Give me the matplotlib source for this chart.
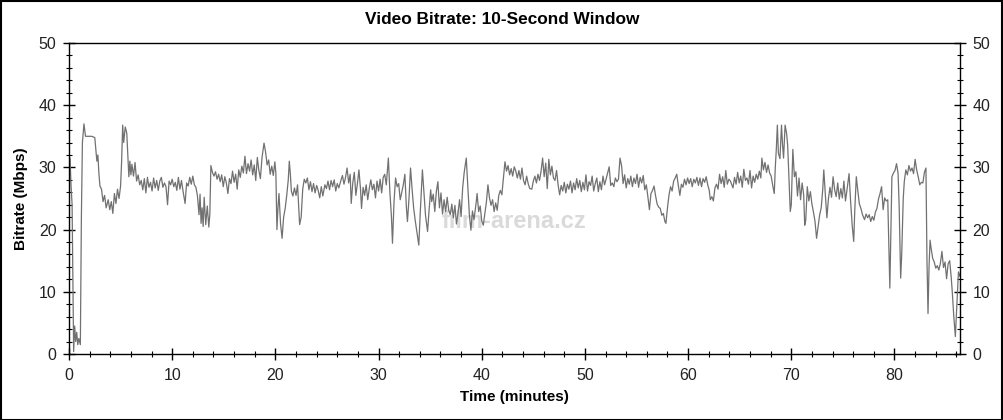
import matplotlib
matplotlib.use("Agg")
import matplotlib.pyplot as plt
from matplotlib.ticker import MultipleLocator
from matplotlib.patches import Rectangle

plt.rcParams['font.family'] = ['Liberation Sans', 'DejaVu Sans']

title = "Video Bitrate: 10-Second Window"
xlabel = "Time (minutes)"
ylabel = "Bitrate (Mbps)"
watermark = "film-arena.cz"

time_min = [
    0.0, 0.1, 0.2, 0.3, 0.4, 0.45, 0.55, 0.65, 0.75, 0.85, 0.95, 1.1, 1.2, 1.3, 1.45, 1.6, 1.8, 2.0, 2.2, 2.5,
    2.7, 2.8, 2.9, 3.0, 3.15, 3.3, 3.45, 3.6, 3.8, 3.95, 4.1, 4.25, 4.4, 4.55, 4.7, 4.85, 5.0, 5.1, 5.2, 5.3,
    5.45, 5.6, 5.7, 5.8, 5.9, 6.0,
    6.1, 6.25, 6.4, 6.55, 6.7, 6.85, 7.0, 7.15, 7.3, 7.45, 7.6, 7.75, 7.9, 8.05, 8.2, 8.35, 8.5, 8.65, 8.8, 8.95,
    9.1, 9.25, 9.4, 9.55, 9.7, 9.85, 10.0, 10.15, 10.3, 10.45, 10.6, 10.75, 10.9, 11.05, 11.25, 11.4, 11.55, 11.7,
    11.85, 12.0, 12.15, 12.3, 12.45, 12.6, 12.7, 12.8, 12.9, 13.0, 13.1,
    13.25, 13.4, 13.55, 13.65, 13.75, 13.9, 14.05, 14.2, 14.35, 14.5, 14.65, 14.8, 14.95, 15.1, 15.25, 15.4, 15.55,
    15.7, 15.85, 16.0, 16.15, 16.3, 16.45, 16.6, 16.75, 16.9, 17.05, 17.2, 17.35, 17.5, 17.65, 17.8, 17.95, 18.1,
    18.25, 18.4, 18.55, 18.7, 18.9, 19.05, 19.2, 19.35, 19.5, 19.65, 19.8, 19.95, 20.05, 20.15, 20.25, 20.35, 20.5,
    20.65, 20.8, 20.95, 21.1, 21.25, 21.35, 21.45, 21.55, 21.7, 21.85, 22.0, 22.15, 22.25, 22.35, 22.5, 22.65, 22.8,
    22.95, 23.1, 23.25, 23.4, 23.55, 23.7, 23.85, 24.0, 24.15, 24.3, 24.45, 24.6, 24.8, 24.95, 25.1, 25.25, 25.4,
    25.55, 25.7, 25.85, 26.0, 26.15,
    26.35, 26.5, 26.65, 26.8, 26.95, 27.1, 27.25, 27.35, 27.5, 27.65, 27.8, 27.95, 28.1, 28.25, 28.35, 28.5, 28.65,
    28.8, 28.95, 29.1, 29.25, 29.4, 29.55, 29.7, 29.85, 30.0, 30.15, 30.3, 30.45, 30.6, 30.75, 30.95, 31.1, 31.25,
    31.35, 31.5, 31.65, 31.8, 31.95, 32.1, 32.25, 32.4, 32.55, 32.7, 32.8, 32.95, 33.1, 33.25, 33.4, 33.55, 33.75,
    33.9, 34.05, 34.25, 34.4, 34.55, 34.75, 34.9, 35.05, 35.15, 35.3, 35.45, 35.6, 35.75, 35.9, 36.05, 36.2, 36.35,
    36.5, 36.65, 36.8, 36.95, 37.1, 37.25, 37.4, 37.55, 37.7, 37.85, 38.0, 38.15, 38.3, 38.5, 38.65, 38.8, 38.95,
    39.1, 39.25,
    39.45, 39.55, 39.7, 39.85, 40.0, 40.15, 40.3, 40.45, 40.6, 40.75, 40.9, 41.05, 41.2, 41.35, 41.5, 41.65, 41.8,
    41.95, 42.1, 42.25, 42.4, 42.55, 42.7, 42.85, 43.0, 43.15, 43.3, 43.45, 43.6, 43.75, 43.9, 44.05, 44.2, 44.35,
    44.5, 44.65, 44.85, 45.0, 45.15, 45.3, 45.45, 45.6, 45.75, 45.9, 46.05, 46.2, 46.35, 46.5, 46.65, 46.8, 46.95,
    47.1, 47.25, 47.4, 47.55, 47.7, 47.85, 48.0, 48.15, 48.3, 48.45, 48.6, 48.75, 48.9, 49.05, 49.2, 49.35, 49.5,
    49.65, 49.8, 49.95, 50.1, 50.25, 50.4, 50.55, 50.7, 50.85, 51.0, 51.15, 51.3, 51.45, 51.6, 51.75, 51.9, 52.05,
    52.35, 52.5, 52.65, 52.8, 52.95, 53.1, 53.25, 53.4, 53.55, 53.7, 53.85, 54.0, 54.15, 54.3, 54.45, 54.6, 54.75,
    54.9, 55.05, 55.2, 55.35, 55.5, 55.65, 55.8, 55.95, 56.1, 56.25, 56.4, 56.55, 56.7, 56.85, 57.0, 57.15, 57.3,
    57.45, 57.6, 57.75, 57.85, 58.0, 58.15, 58.3, 58.45, 58.6, 58.75, 58.9, 59.05, 59.2, 59.35, 59.5, 59.65, 59.8,
    59.95, 60.1, 60.25, 60.4, 60.55, 60.7, 60.85, 61.0, 61.15, 61.3, 61.45, 61.6, 61.75, 61.9, 62.05, 62.15, 62.3,
    62.45, 62.6, 62.75, 62.9, 63.05, 63.2, 63.35, 63.5, 63.65, 63.8, 63.95, 64.1,
    64.35, 64.5, 64.65, 64.8, 64.95, 65.1, 65.25, 65.4, 65.55, 65.7, 65.85, 66.0, 66.15, 66.3, 66.45, 66.6, 66.75,
    66.9, 67.05, 67.15, 67.3, 67.45, 67.6, 67.75, 67.9, 68.05, 68.2, 68.35, 68.45, 68.55, 68.65, 68.75, 68.9, 69.05,
    69.15, 69.25, 69.4, 69.55, 69.65, 69.8, 69.9, 70.0, 70.15, 70.3, 70.45, 70.6, 70.75, 70.9, 71.05, 71.2, 71.3,
    71.4, 71.55, 71.7, 71.85, 72.0, 72.15, 72.3, 72.45, 72.6, 72.75, 72.9, 73.05, 73.15, 73.3, 73.45, 73.6, 73.75,
    73.9, 74.05, 74.2, 74.35, 74.5, 74.65, 74.8, 74.95, 75.1, 75.25, 75.4, 75.6, 75.75, 75.9, 76.05, 76.15, 76.3,
    76.45, 76.6, 76.75, 76.9,
    77.1, 77.25, 77.4, 77.55, 77.7, 77.85, 78.0, 78.15, 78.3, 78.45, 78.6, 78.75, 78.9, 79.05, 79.2, 79.35, 79.45,
    79.55, 79.65, 79.75, 79.9, 80.05, 80.2, 80.35, 80.45, 80.6, 80.7, 80.85, 80.95, 81.1, 81.25, 81.4, 81.55, 81.7,
    81.85, 82.0, 82.15, 82.3, 82.45, 82.6, 82.75, 82.9, 83.05, 83.15, 83.25, 83.35, 83.45, 83.55, 83.7, 83.85, 84.0,
    84.15, 84.3, 84.45, 84.6, 84.75, 84.9, 85.05, 85.2, 85.35, 85.5, 85.6, 85.75, 85.9, 86.05, 86.2, 86.35,
]

bitrate_mbps = [
    29, 31.5, 27, 24, 8, 0.4, 4.5, 2, 3.5, 1.5, 2.5, 1.5, 22, 34, 37, 35, 35, 35, 35, 34.8,
    31, 32, 29, 27, 26.5, 24.5, 25.5, 23.5, 24.8, 23.2, 24.5, 22.6, 25.8, 24.2, 26.5, 25, 27, 31, 36.8, 34,
    36.5, 35.5, 32, 28.5, 31, 28.8,
    30.5, 28.6, 30.8, 27.8, 28.8, 27.2, 27.9, 26.4, 28.2, 25.9, 28.4, 26.8, 27.6, 26.2, 28.3, 26.7, 27.9, 26.3, 27.8, 28.4,
    26.8, 27.5, 26.9, 24, 27.8, 27.2, 28.1, 26.9, 27.6, 26.3, 28.4, 26.5, 27.9, 26.2, 24.2, 27.5, 27, 28.4,
    27.3, 28.6, 27.2, 26.8, 25.4, 22.4, 25.7, 21, 23.5, 20.5, 25.2,
    20.8, 23.8, 20.4, 22.5, 30.3, 29.2, 28.6, 29.3, 28.1, 28.9, 27.7, 28.8, 26.9, 28.5, 27.5, 25.8, 28.2,
    27.4, 29.4, 27.6, 28.9, 26.5, 29.6, 28.4, 30.2, 29.1, 31.8, 29, 30.6, 29.4, 31.2, 28.8, 30.4, 27.9,
    31.6, 29.5, 28.2, 31.5, 33.9, 32.5, 30.4, 31.2, 28.9, 30.2, 28.7, 30.9, 29, 20, 23.5, 25.8, 21,
    18.6, 22, 23.4, 25.5, 28, 31, 29, 26.2, 25.4, 26.7, 25.5, 27.2, 24, 20.8, 22, 26.5, 28.1,
    27.5, 28.3, 26.4, 27.7, 26.1, 27.4, 25.9, 27.1, 26.3, 25.1, 26.9, 25.4, 27.2, 26.6, 27.8, 26.4, 27.9,
    26.9, 28, 26.2, 27.4, 26.7,
    27.9, 28.7, 27.3, 28.4, 29.9, 27.5, 28.9, 24.2, 27.5, 29.2, 25.5, 27.4, 29.6, 26.5, 23.4, 26.8, 25.5,
    27.2, 24.8, 26.6, 28, 26.4, 27.3, 25.1, 27.8, 26.2, 28.1, 25.9, 28.4, 28.9, 27.2, 31.5, 26, 22,
    17.8, 24.5, 28.3, 26.9, 27.4, 24.8, 26, 27.2, 28.9, 23.5, 21.3, 25, 29.9, 26.5, 23.5, 21.5, 19.2,
    17.5, 23, 29.6, 26, 22.3, 19.7, 23.2, 26.4, 24.5, 25.7, 22.9, 26.1, 27.7, 23.5, 25.9, 22.5, 24.8,
    22.9, 25.2, 23.1, 22.4, 24.1, 21.9, 23.9, 20.9, 22.6, 24.8, 22.1, 26.7, 29.2, 31.5, 27, 22.4, 19.9,
    23, 21.6,
    24.2, 25.8, 22.9, 23.8, 21.4, 20.7, 22.6, 24.4, 27.2, 25.1, 23.9, 24.8, 22.9, 24.3, 23.1, 25.5, 26.3,
    25.6, 28.2, 30.9, 29.4, 30.3, 28.8, 29.8, 28.6, 30.1, 29.4, 28.3, 29.5, 28.1, 29.9, 27.9, 27.2, 28.6,
    27.4, 26.6, 26.5, 27.8, 28.6, 27.5, 28.9, 27.9, 29.4, 31.5, 28.5, 30.7, 26.6, 31.3, 28.8, 30.2, 28.3,
    27.9, 29.5, 27.2, 25.6, 27.1, 26.2, 27.6, 25.9, 27.3, 26.5, 27.8, 25.9, 27.5, 26.4, 28.2, 26.7, 27.9,
    26.1, 27.6, 26.4, 28.8, 26.2, 27.7, 27.1, 28.6, 26.2, 27.4, 28.3, 26.1, 27.7, 26.4, 28.6, 27.2, 28.1,
    30.1, 27.1, 27.5, 26.9, 28.3, 27.7, 28.1, 31.5, 30.3, 27.4, 28.8, 26.7, 28.2, 27.3, 28.6, 26.9, 28.3,
    27.4, 28.9, 26.8, 28.4, 27.5, 28.7, 26.4, 27.2, 25.3, 23.2, 25.8, 26.3, 27, 25.4, 24.1, 23.6, 23.4,
    22.3, 22.6, 21.3, 21, 23.5, 25.6, 26.9, 26.2, 27.8, 28.3, 28.9, 27.1, 25.5, 27.3, 26.8, 28.1, 27.2,
    28.3, 27.4, 28.2, 26.9, 28.1, 27.5, 28.4, 27.1, 28.3, 26.9, 28.2, 27.6, 28.5, 27.2, 26.3, 24.8, 25.3,
    24.6, 26.7, 27.3, 26.5, 28.9, 27.4, 28.5, 26.8, 29.5, 27.3, 28.1, 27.8,
    26.7, 28.4, 27.3, 29.2, 27.5, 28.6, 26.8, 29.7, 27.9, 28.3, 27.3, 29.5, 26.7, 28.6, 27.6, 28.9, 28.1,
    29.4, 28.3, 31.5, 29.6, 30.8, 29.2, 30.4, 29.1, 28.6, 27.1, 25.8, 30, 33, 36.8, 32.3, 31.4, 36.8,
    33.7, 31.5, 36.8, 35.4, 33.5, 27, 22.9, 24, 32.9, 28.5, 29.3, 25.4, 28.3, 24.8, 27.5, 25.6, 20.7,
    21.5, 26.9, 24.6, 26.1, 24.1, 22.8, 21.3, 18.6, 20.5, 22.4, 23.5, 26.5, 29.6, 25.6, 21.9, 25, 26.8,
    25.2, 28.5, 26.4, 25.3, 27.5, 24.9, 26.6, 25.1, 27.8, 24.6, 26.4, 29, 24.5, 20.7, 18.1, 23, 28.5,
    26.2, 24.1, 23.4, 22.4,
    21.6, 22.5, 21.9, 22.4, 21.3, 22.1, 21.5, 22.8, 23.4, 24.9, 25.8, 26.9, 23.2, 25.1, 24.6, 24.8, 18,
    10.6, 20, 28.5, 29.1, 29.5, 30.6, 29, 24, 12.2, 16, 25, 27.7, 29.6, 28.8, 30.3, 29.4, 29.9,
    29, 31.3, 29.6, 28.5, 27.2, 27.6, 27.5, 29.2, 29.9, 15, 6.5, 14, 18.3, 17, 15.4, 14.8, 13.8,
    14.2, 13.5, 14.6, 16.5, 13.9, 14.8, 12.1, 14.5, 15, 12.3, 10, 6, 2.8, 8, 13.2, 12.5,
]

x_max = 86.35
y_max = 50

fig = plt.figure(figsize=(10.04, 4.2), dpi=100)
ax = fig.add_axes([69 / 1004, 1 - 354 / 420, (960 - 69) / 1004, (354 - 43) / 420])

ax.text(0.5, 0.425, watermark, transform=ax.transAxes, fontsize=17, fontweight='bold',
        color='#dadada', ha='center', va='center', zorder=0)

ax.plot(time_min, bitrate_mbps, color='#717171', lw=0.9, zorder=2)

ax.set_xlim(0, x_max)
ax.set_ylim(0, y_max)
ax.xaxis.set_major_locator(MultipleLocator(10))
ax.xaxis.set_minor_locator(MultipleLocator(2))
ax.yaxis.set_major_locator(MultipleLocator(10))
ax.yaxis.set_minor_locator(MultipleLocator(2))

ax.tick_params(axis='both', which='major', direction='inout', length=8, width=1,
               labelsize=11.5, color='black', labelcolor='#222222')
ax.tick_params(axis='both', which='minor', direction='inout', length=5, width=0.8)
ax.tick_params(axis='y', which='both', left=True, right=True, labelleft=True, labelright=True, pad=5)
ax.tick_params(axis='x', which='both', top=False, pad=6)

for s in ax.spines.values():
    s.set_linewidth(1.0)
    s.set_color('black')

ax.set_xlabel(xlabel, fontsize=11, fontweight='bold', labelpad=5)
ax.set_ylabel(ylabel, fontsize=11, fontweight='bold', labelpad=8)
fig.text(0.5, 1 - 20 / 420, title, ha='center', va='center', fontsize=12.4, fontweight='bold')

fig.patches.append(Rectangle((0.0005, 0.001), 0.998, 0.997, transform=fig.transFigure,
                             fill=False, edgecolor='black', lw=1.5))

fig.savefig('out.png', dpi=100)
